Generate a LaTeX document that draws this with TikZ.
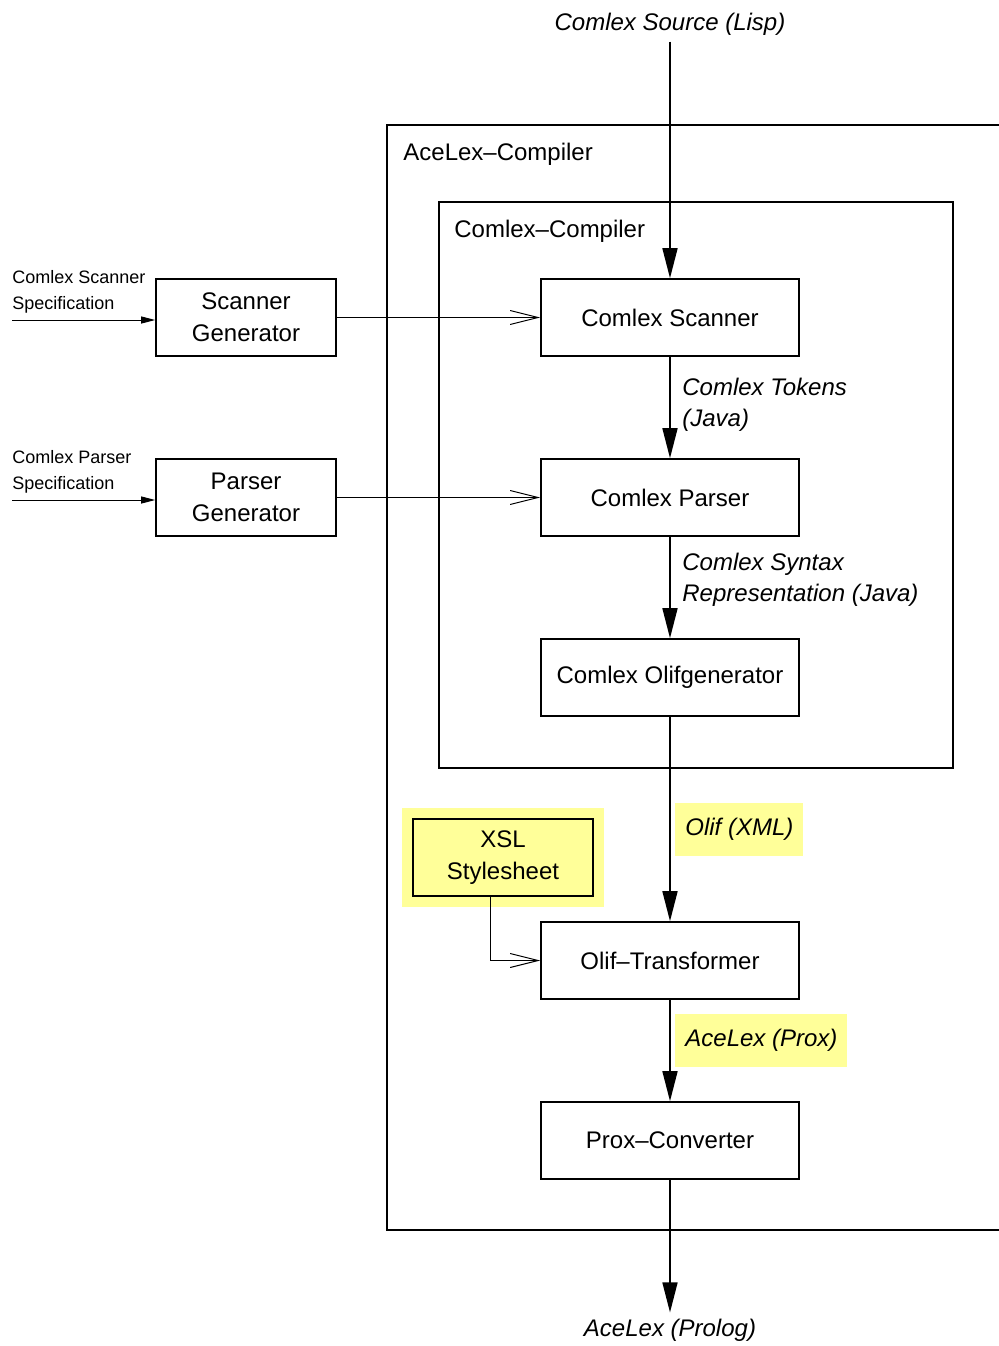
\documentclass[tikz,border=0pt]{standalone}
\usepackage{fontspec}
\setmainfont{Liberation Sans}
\usetikzlibrary{arrows.meta}
\definecolor{hlyellow}{RGB}{255,255,153}

\tikzset{
	unit/.style={draw,line width=0.8pt,minimum width=129pt,minimum height=38.5pt,
		align=center,font=\fontsize{12}{16}\selectfont},
	gen/.style={unit,minimum width=90pt},
	xsl/.style={gen,fill=hlyellow,preaction={draw=hlyellow,line width=11pt}},
	title/.style={anchor=west,inner sep=0pt,font=\fontsize{12}{16}\selectfont},
	data/.style={anchor=west,inner sep=0pt,align=left,font=\fontsize{12}{15.5}\itshape},
	hl/.style={anchor=west,fill=hlyellow,inner xsep=5pt,minimum height=26.5pt,
		font=\fontsize{12}{15.5}\itshape},
	spec/.style={anchor=west,inner sep=0pt,align=left,font=\fontsize{9}{13}\selectfont},
	flow/.style={line width=0.8pt,-{Triangle[length=15pt,width=7.5pt]}},
	feed/.style={line width=0.5pt,-{Straight Barb[length=14pt,width=7pt]}},
	input/.style={line width=0.5pt,-{Triangle[length=7pt,width=3.5pt]}}
}

\begin{document}
\begin{tikzpicture}[x=0.5pt,y=-0.5pt]
	\useasboundingbox (0,0) rectangle (998,1346);
	\draw[line width=0.8pt] (1000,125) -| (387,1230) -- (1000,1230);
	\draw[line width=0.8pt] (439,202) rectangle (953,768);
	\node[title] (acelex) at (403,154) {AceLex--Compiler};
	\node[title] (comlex) at (454,231) {Comlex--Compiler};

	\node[font=\fontsize{12}{15}\itshape,inner sep=3pt] (source) at (670,24) {Comlex Source (Lisp)};
	\node[font=\fontsize{12}{15}\itshape,inner sep=3pt] (prolog) at (670,1330) {AceLex (Prolog)};

	\node[unit] (scanner) at (670,317.5) {Comlex Scanner};
	\node[unit] (parser) at (670,497.5) {Comlex Parser};
	\node[unit] (olifgen) at (670,677.5) {Comlex Olifgenerator};
	\node[unit] (transformer) at (670,960.5) {Olif--Transformer};
	\node[unit] (converter) at (670,1140.5) {Prox--Converter};
	\node[gen] (scangen) at (246,317.5) {Scanner\\Generator};
	\node[gen] (parsegen) at (246,497.5) {Parser\\Generator};
	\node[xsl] (stylesheet) at (503,857.5) {XSL\\Stylesheet};

	\node[data] (tokens) at (682,405) {Comlex Tokens\\(Java)};
	\node[data] (syntax) at (682,580) {Comlex Syntax\\Representation (Java)};
	\node[hl] (olif) at (675,829.5) {Olif (XML)};
	\node[hl] (prox) at (675,1040) {AceLex (Prox)};

	\node[spec] (scanspec) at (12,292) {Comlex Scanner\\Specification};
	\node[spec] (parsespec) at (12,472) {Comlex Parser\\Specification};
	\coordinate (scanin) at (12,320);
	\coordinate (parsein) at (12,500);

	\foreach \a/\b in {source/scanner,scanner/parser,parser/olifgen,
		olifgen/transformer,transformer/converter,converter/prolog}
		\draw[flow] (\a.south) -- (\b.north);
	\draw[input] (scanin) -- (scanin -| scangen.west);
	\draw[input] (parsein) -- (parsein -| parsegen.west);
	\draw[feed] (scangen.east) -- (scanner.west);
	\draw[feed] (parsegen.east) -- (parser.west);
	\draw[feed] ([xshift=-6.5pt]stylesheet.south) |- (transformer.west);
\end{tikzpicture}
\end{document}
